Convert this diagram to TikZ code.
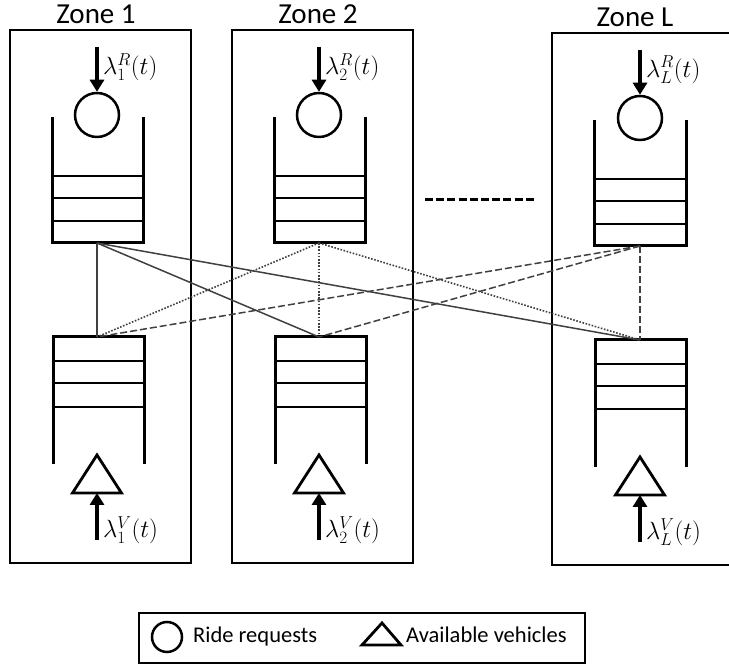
\documentclass[tikz,border=0pt]{standalone}
\usepackage{amsmath}
\usepackage{fontspec}
\setmainfont{Carlito}
\usepackage{tikz}
\usetikzlibrary{arrows.meta}

\begin{document}
\begin{tikzpicture}[x=1pt, y=1pt,
    zonebox/.style = {draw=black, line width=1.3pt},
    wall/.style = {draw=black, line width=3pt},
    rung/.style = {draw=black, line width=2pt},
    reqcirc/.style = {circle, draw=black, line width=2.5pt, minimum size=44pt, inner sep=0pt},
    vehtri/.style = {draw=black, line width=2.8pt, line join=miter},
    inarrow/.style = {line width=3.2pt, -{Triangle[width=14pt, length=12pt]}},
    ratelabel/.style = {anchor=west, inner sep=0pt, font=\fontsize{25}{28}\selectfont},
    zonelabel/.style = {inner sep=0pt, font=\fontsize{29}{32}\selectfont},
    legendtext/.style = {anchor=west, inner sep=0pt, font=\fontsize{22.5}{26}\selectfont},
    link1/.style = {draw=black!75, line width=1.5pt},
    link2/.style = {draw=black!75, line width=1.6pt, dash pattern=on 1.6pt off 1.6pt},
    linkL/.style = {draw=black!75, line width=1.5pt, dash pattern=on 7pt off 3pt}
  ]
    \useasboundingbox (0,0) rectangle (729,666);

    % zone boxes and titles
    \draw[zonebox] (10,103) rectangle (191,636);
    \draw[zonebox] (232,103) rectangle (413,636);
    \draw[zonebox] (552,101) rectangle (740,633);
    \node[zonelabel] (zone1) at (96,652) {Zone 1};
    \node[zonelabel] (zone2) at (318,652) {Zone 2};
    \node[zonelabel] (zoneL) at (635,649) {Zone L};

    % zone 1
    \draw[wall] (52,549) -- (52,423) -- (143,423) -- (143,549);
    \draw[rung] (52,490) -- (143,490);
    \draw[rung] (52,468) -- (143,468);
    \draw[rung] (52,445) -- (143,445);
    \node[reqcirc] (req1) at (97,551) {};
    \coordinate (inR1) at (97,619);
    \draw[inarrow] (inR1) -- (req1);
    \node[ratelabel] (lamR1) at (103,599) {$\lambda_1^R(t)$};
    \coordinate (rq1) at (97,423);
    \draw[wall] (53,202) -- (53,329) -- (144,329) -- (144,202);
    \draw[rung] (53,305) -- (144,305);
    \draw[rung] (53,283) -- (144,283);
    \draw[rung] (53,259) -- (144,259);
    \coordinate (vq1) at (97,329);
    \draw[vehtri] (97,211) -- (121.5,173) -- (72.5,173) -- cycle;
    \coordinate (veh1) at (97,173);
    \coordinate (inV1) at (97,126);
    \draw[inarrow] (inV1) -- (veh1);
    \node[ratelabel] (lamV1) at (103,136) {$\lambda_1^V(t)$};

    % zone 2
    \draw[wall] (274,549) -- (274,423) -- (365,423) -- (365,549);
    \draw[rung] (274,490) -- (365,490);
    \draw[rung] (274,468) -- (365,468);
    \draw[rung] (274,445) -- (365,445);
    \node[reqcirc] (req2) at (319,551) {};
    \coordinate (inR2) at (319,619);
    \draw[inarrow] (inR2) -- (req2);
    \node[ratelabel] (lamR2) at (325,599) {$\lambda_2^R(t)$};
    \coordinate (rq2) at (319,423);
    \draw[wall] (275,202) -- (275,329) -- (366,329) -- (366,202);
    \draw[rung] (275,305) -- (366,305);
    \draw[rung] (275,283) -- (366,283);
    \draw[rung] (275,259) -- (366,259);
    \coordinate (vq2) at (319,329);
    \draw[vehtri] (319,211) -- (343.5,173) -- (294.5,173) -- cycle;
    \coordinate (veh2) at (319,173);
    \coordinate (inV2) at (319,126);
    \draw[inarrow] (inV2) -- (veh2);
    \node[ratelabel] (lamV2) at (325,136) {$\lambda_2^V(t)$};

    % zone L
    \draw[wall] (594,546) -- (594,420) -- (686,420) -- (686,546);
    \draw[rung] (594,487) -- (686,487);
    \draw[rung] (594,465) -- (686,465);
    \draw[rung] (594,442) -- (686,442);
    \node[reqcirc] (reqL) at (640,548) {};
    \coordinate (inRL) at (640,616);
    \draw[inarrow] (inRL) -- (reqL);
    \node[ratelabel] (lamRL) at (646,596) {$\lambda_L^R(t)$};
    \coordinate (rqL) at (640,420);
    \draw[wall] (595,199) -- (595,326) -- (686,326) -- (686,199);
    \draw[rung] (595,302) -- (686,302);
    \draw[rung] (595,280) -- (686,280);
    \draw[rung] (595,257) -- (686,257);
    \coordinate (vqL) at (640,326);
    \draw[vehtri] (640,209) -- (664.5,171) -- (615.5,171) -- cycle;
    \coordinate (vehL) at (640,171);
    \coordinate (inVL) at (640,124);
    \draw[inarrow] (inVL) -- (vehL);
    \node[ratelabel] (lamVL) at (646,134) {$\lambda_L^V(t)$};

    % dots between zone 2 and zone L
    \draw[line width=3pt, dash pattern=on 8pt off 3.2pt] (425,466) -- (536,466);

    % matching links
    \draw[link1] (rq1) -- (vq1);
    \draw[link1] (rq1) -- (vq2);
    \draw[link1] (rq1) -- (vqL);
    \draw[link2] (rq2) -- (vq1);
    \draw[link2] (rq2) -- (vq2);
    \draw[link2] (rq2) -- (vqL);
    \draw[linkL] (rqL) -- (vq1);
    \draw[linkL] (rqL) -- (vq2);
    \draw[linkL] (rqL) -- (vqL);

    % legend
    \draw[zonebox] (139,3) rectangle (585,53);
    \node[reqcirc, minimum size=30pt] (legcirc) at (167,29) {};
    \node[legendtext] (legreq) at (193,29) {Ride requests};
    \draw[vehtri] (382,43) -- (401,21) -- (362,21) -- cycle;
    \node[legendtext] (legveh) at (406,31) {Available vehicles};
\end{tikzpicture}
\end{document}
